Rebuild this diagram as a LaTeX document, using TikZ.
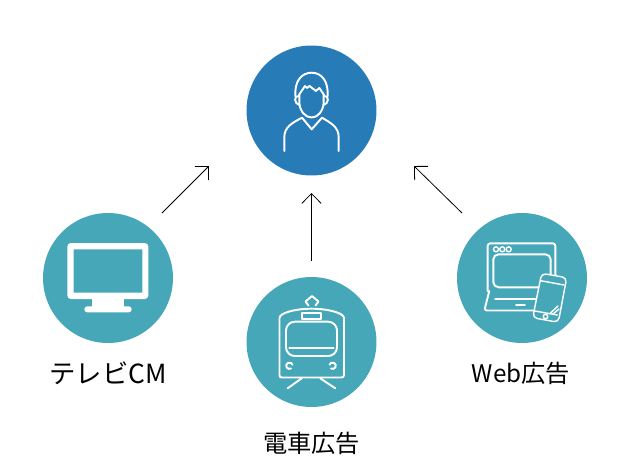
\documentclass[tikz,border=0pt]{standalone}
\usepackage{fontspec}
\setmainfont{Noto Sans CJK JP}
\usetikzlibrary{arrows.meta}
\definecolor{userblue}{HTML}{277BB6}
\definecolor{adteal}{HTML}{46A7B8}
\tikzset{
  adcircle/.style={circle, minimum size=2.6cm, inner sep=0pt, fill=adteal},
  icon/.style={draw=white, line width=1.1pt, line join=round, line cap=round},
  thinicon/.style={icon, line width=0.8pt},
  adlabel/.style={font=\fontsize{13.8}{15}\selectfont, text=black},
  adarrow/.style={-{Straight Barb[length=5.6pt,width=11pt]}, line width=0.45pt, black}
}
\begin{document}
\begin{tikzpicture}[x=0.02cm, y=-0.02cm]
  \useasboundingbox (0,0) rectangle (623,474);
  \node[adcircle, fill=userblue] (user) at (311.5,110.5) {};
  \node[adcircle] (tv)    at (108,278) {};
  \node[adcircle] (train) at (311.5,342) {};
  \node[adcircle] (web)   at (522,278) {};
  \node[adlabel, font=\fontsize{15}{17}\selectfont] (tvlbl) at (108,373) {テレビCM};
  \node[adlabel] (trainlbl) at (311.5,443) {電車広告};
  \node[adlabel] (weblbl)   at (521,373) {Web広告};
  % arrows
  \coordinate (tvstart)    at (162,213);
  \coordinate (tvend)      at (209,166);
  \coordinate (trainstart) at (311.5,261);
  \coordinate (trainend)   at (311.5,193);
  \coordinate (webstart)   at (462,213);
  \coordinate (webend)     at (414,166);
  \draw[adarrow] (tvstart) -- (tvend);
  \draw[adarrow] (trainstart) -- (trainend);
  \draw[adarrow] (webstart) -- (webend);
  % user
  \draw[icon] (295.5,97) .. controls (294,82) and (301,72.7) .. (311.7,72.7)
    .. controls (322,72.7) and (329,82) .. (327.5,97);
  \draw[icon] (299.3,94.3) -- (305,86) -- (307,88) -- (309.5,86) -- (316,91) -- (319.3,88) -- (323.7,94.3);
  \draw[icon] (299.3,94.3) -- (299.3,103) .. controls (300,111) and (305,117.5) .. (311.7,117.5)
    .. controls (318,117.5) and (323,111) .. (323.7,103) -- (323.7,94.3);
  \draw[icon] (299,96) .. controls (293.5,95) and (294,104) .. (299.5,105);
  \draw[icon] (324,96) .. controls (329.5,95) and (329,104) .. (323.5,105);
  \draw[icon] (284.3,151) -- (284.3,137) .. controls (284.5,127) and (292,123) .. (302,117.7)
    -- (311.7,129.3) -- (322,117.7) .. controls (331,123) and (338.5,127) .. (338.7,137) -- (338.7,151);
  % tv
  \fill[white, even odd rule, rounded corners=2pt] (67.3,243) rectangle (148.3,299)
    [sharp corners] (73.7,249.3) rectangle (142.3,292.7);
  \fill[white] (91.7,299) rectangle (124.3,308);
  \fill[white, rounded corners=1.7pt] (84.3,306.3) rectangle (131.7,312.3);
  % train
  \draw[icon] (279.5,318) .. controls (279.5,313) and (295,308.7) .. (311.5,308.7)
    .. controls (328,308.7) and (344,313) .. (344,318) -- (344,375) .. controls (344,377) and (343,377.5) .. (341,377.5)
    -- (282,377.5) .. controls (280,377.5) and (279.5,377) .. (279.5,375) -- cycle;
  \draw[icon] (308.5,305.5) -- (305.5,301.5) -- (312,296) -- (318.5,301.5) -- (315.5,305.5);
  \draw[icon] (302,313.3) rectangle (321,319);
  \draw[icon, rounded corners=5pt] (286,321.7) rectangle (337,356);
  \draw[icon] (289.3,348.3) -- (333.7,348.3);
  \draw[icon] (291,368.5) arc (60:340:3.2);
  \draw[icon] (331,368.5) arc (120:-160:3.2);
  \draw[icon] (301.7,378.3) -- (287.7,388.3);
  \draw[icon] (320.3,378.3) -- (335.3,388.3);
  % web
  \draw[icon, rounded corners=1.5pt] (487.7,291) -- (487.7,243.3) -- (555.3,243.3) -- (555.3,275);
  \draw[icon, rounded corners=3pt] (493.3,254.3) rectangle (550.7,287.3);
  \draw[thinicon] (496,249.3) circle (2.5);
  \draw[thinicon] (502.3,249.3) circle (2.5);
  \draw[thinicon] (508.7,249.3) circle (2.5);
  \draw[icon, rounded corners=1.5pt] (489.3,291) -- (484.3,310.5) -- (534,310.5);
  \draw[icon] (495,299) -- (536,299);
  \draw[icon] (516,305) -- (525,305);
  \draw[thinicon, fill=adteal, rounded corners=2.5pt] (541.7,273.3) -- (566.7,277.7) -- (558.3,322.3) -- (532.7,317.7) -- cycle;
  \draw[thinicon] (540.7,280.7) -- (564,285);
  \draw[thinicon] (535,311) -- (557.3,315);
  \draw[thinicon] (545.5,316.5) circle (2.3);
  \draw[thinicon] (550,313.5) -- (558,306);
  \draw[thinicon] (553,314) -- (559,309);
\end{tikzpicture}
\end{document}
